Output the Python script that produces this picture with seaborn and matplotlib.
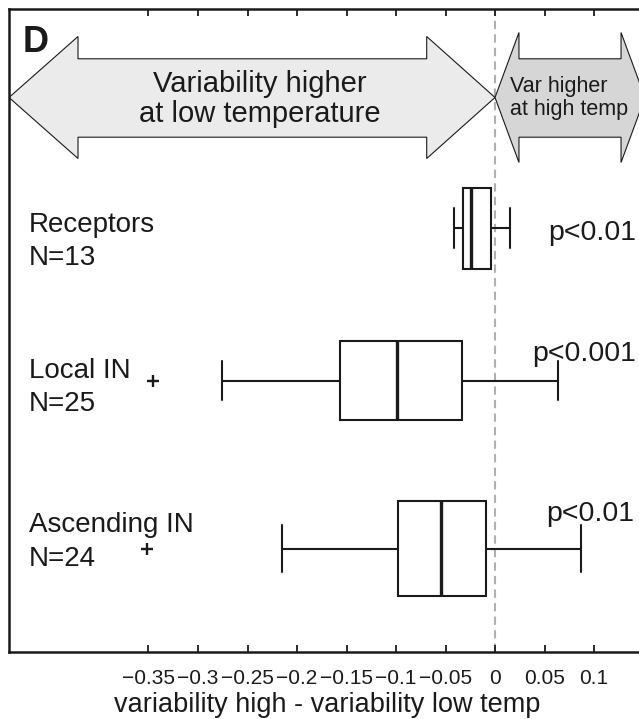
import numpy as np
import pandas as pd
import matplotlib
matplotlib.use("Agg")
import matplotlib.pyplot as plt
from matplotlib.patches import Polygon
import seaborn as sns

# ---- data -------------------------------------------------------------
groups = ["Receptors", "Local IN", "Ascending IN"]
n_cells = [13, 25, 24]
p_labels = ["p<0.01", "p<0.001", "p<0.01"]

# five-number summaries: lower whisker, Q1, median, Q3, upper whisker
receptors = [-0.0414, -0.0322, -0.0242, -0.0043, 0.0152]
local_in = [-0.2755, -0.1566, -0.0985, -0.0330, 0.0633]
ascending_in = [-0.2148, -0.0983, -0.0548, -0.0091, 0.0869]

# single points outside the whiskers
outliers_receptors = []
outliers_local = [-0.345]
outliers_ascending = [-0.352]

tick_values = [-0.35, -0.3, -0.25, -0.2, -0.15, -0.1, -0.05, 0, 0.05, 0.1]
tick_labels = ["\u22120.35", "\u22120.3", "\u22120.25", "\u22120.2", "\u22120.15",
               "\u22120.1", "\u22120.05", "0", "0.05", "0.1"]

# ---- layout (vertical axis runs downward, in pixels below the frame top) ----
row_pos = [219.0, 371.5, 539.5]
row_width = [81, 79, 95]
y_top, y_bottom = 0.0, 643.0
x_lo, x_hi = -0.4909, 0.1515

ink = "#1a1a1a"

sns.set_theme(style="ticks")
plt.rcParams["font.family"] = ["Liberation Sans", "DejaVu Sans"]
plt.rcParams["axes.unicode_minus"] = True

fig = plt.figure(figsize=(6.39, 7.19), dpi=100)
ax = fig.add_axes([9 / 639, 67 / 719, 636 / 639, 643 / 719])

# zero reference line
ax.axvline(0, color="#b0b0b0", lw=1.5, ls=(0, (4, 2.5)), zorder=0.5)

box_sets = [receptors, local_in, ascending_in]
outlier_sets = [outliers_receptors, outliers_local, outliers_ascending]
for vals, outs, pos, w in zip(box_sets, outlier_sets, row_pos, row_width):
    df = pd.DataFrame({"diff": vals, "row": [pos] * len(vals)})
    sns.boxplot(
        data=df, x="diff", y="row", orient="y", native_scale=True,
        width=w, whis=(0, 100), showfliers=False,
        color="white", linecolor=ink, linewidth=1.5,
        medianprops=dict(linewidth=2.4, color=ink),
        ax=ax, zorder=3,
    )
    if outs:
        sns.scatterplot(x=outs, y=[pos] * len(outs), marker="+", s=80,
                        color=ink, linewidth=1.7, ax=ax, zorder=3)

# direction arrows along the top
big_arrow = [
    (x_lo, 88.5), (-0.4212, 27.5), (-0.4212, 49.8), (-0.0690, 49.8),
    (-0.0690, 27.5), (0.0, 88.5), (-0.0690, 149.5), (-0.0690, 128.2),
    (-0.4212, 128.2), (-0.4212, 149.5),
]
small_arrow = [
    (0.0, 88.5), (0.0242, 23.5), (0.0242, 49.8), (0.1273, 49.8),
    (0.1273, 23.5), (x_hi, 88.5), (0.1273, 153.5), (0.1273, 128.2),
    (0.0242, 128.2), (0.0242, 153.5),
]
ax.add_patch(Polygon(big_arrow, closed=True, facecolor="#ebebeb",
                     edgecolor=ink, lw=0.8, zorder=2))
ax.add_patch(Polygon(small_arrow, closed=True, facecolor="#d6d6d6",
                     edgecolor=ink, lw=0.8, zorder=2))
ax.text(-0.2374, 90, "Variability higher\nat low temperature", ha="center",
        va="center", fontsize=21, linespacing=1.1, color=ink, zorder=4)
ax.text(0.0152, 89, "Var higher\nat high temp", ha="left", va="center",
        fontsize=15.5, linespacing=1.12, color=ink, zorder=4)

# row labels and significance
name_base = [223.2, 368.8, 523.5]
p_x = [0.0535, 0.0371, 0.0515]
p_base = [230.5, 352.2, 512.2]
for name, n, pl, yb, px, pb in zip(groups, n_cells, p_labels, name_base, p_x, p_base):
    ax.text(-0.4707, yb, name, ha="left", va="baseline", fontsize=20, color=ink)
    ax.text(-0.4707, yb + 33, f"N={n}", ha="left", va="baseline", fontsize=20, color=ink)
    ax.text(px, pb, pl, ha="left", va="baseline", fontsize=20.5, color=ink)

ax.set_xlim(x_lo, x_hi)
ax.set_ylim(y_bottom, y_top)
ax.set_xticks(tick_values)
ax.set_xticklabels(tick_labels)
ax.set_yticks([])
ax.set_ylabel("")
ax.set_xlabel("variability high - variability low temp", fontsize=19.5,
              color=ink, labelpad=3)
ax.tick_params(axis="x", direction="in", top=True, bottom=True, length=5,
               width=1.3, color=ink, labelsize=15, pad=12, labelcolor=ink)
for side in ["left", "top", "bottom", "right"]:
    ax.spines[side].set_linewidth(1.8)
    ax.spines[side].set_color(ink)

fig.text(23 / 639, 1 - 52 / 719, "D", fontsize=26, fontweight="bold",
         ha="left", va="baseline", color=ink)

fig.savefig("out.png", dpi=100)
